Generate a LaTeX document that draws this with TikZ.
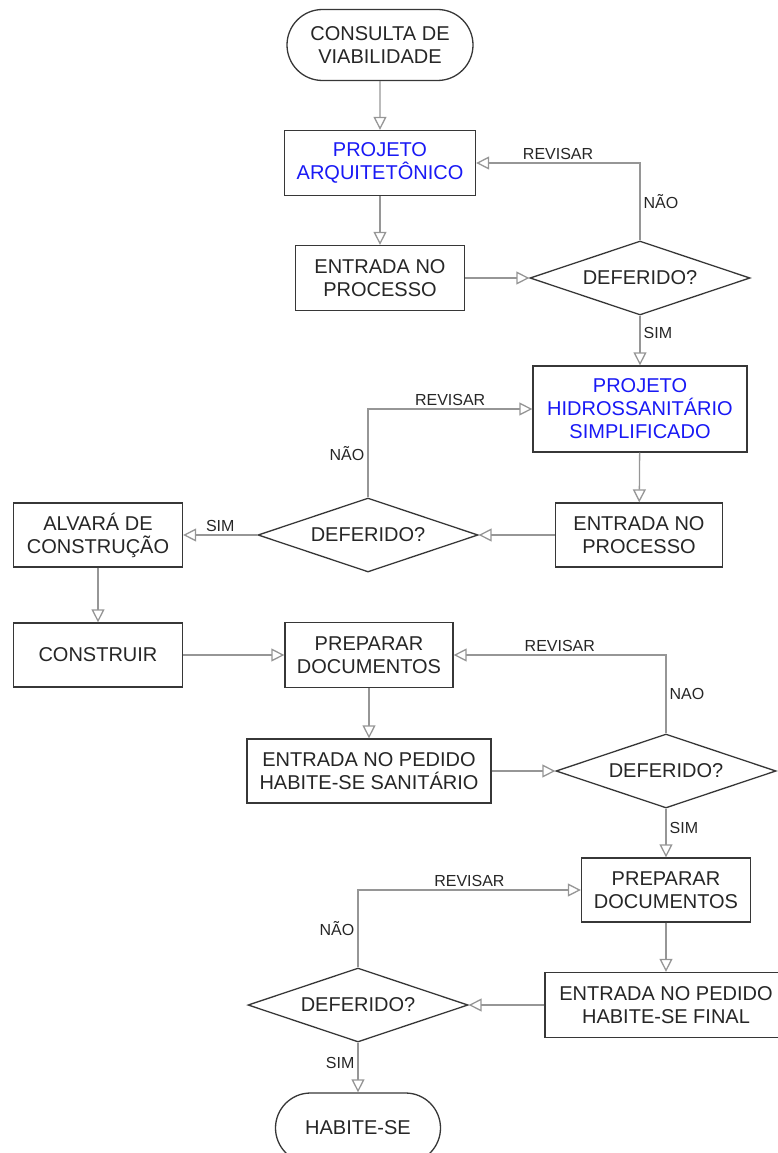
\documentclass[tikz,border=0pt]{standalone}
\usepackage{fontspec}
\setmainfont{Liberation Sans}
\usetikzlibrary{arrows.meta,positioning}
\usetikzlibrary{shapes}
\definecolor{linegray}{RGB}{150,150,150}
\definecolor{boxgray}{RGB}{55,55,55}
\definecolor{textblue}{RGB}{25,25,245}
\tikzset{
        treenode/.style={align=center,inner sep=0pt,text=black!85,font=\fontsize{20}{23}\selectfont},
        % Process boxes
        node_process/.style={treenode, rectangle, draw=boxgray, line width=1.3pt, fill=white},
        % Project boxes
        node_project/.style={node_process, text=textblue},
        % Decision nodes
        node_decision/.style={treenode, diamond, aspect=3, draw=boxgray, line width=1.3pt, minimum width=220pt, minimum height=74pt},
        % Start and end nodes
        node_terminal/.style={treenode, rounded rectangle, draw=boxgray, line width=1.3pt},
        % Connector labels
        node_label/.style={font=\fontsize{16}{18}\selectfont, text=black!85, inner sep=3pt},
        flow/.style={draw=linegray, line width=1.3pt, -{Triangle[open, length=13pt, width=13pt]}}
}
\begin{document}
\begin{tikzpicture}[x=1pt, y=-1pt]
            \useasboundingbox (0,0) rectangle (777,1153);
            \node[node_terminal, minimum width=186pt, minimum height=71pt] (consulta) at (380,45) {CONSULTA DE\\VIABILIDADE};
            \node[node_project, minimum width=191pt, minimum height=65pt] (arq) at (380,163) {PROJETO\\ARQUITETÔNICO};
            \node[node_process, minimum width=169pt, minimum height=65pt] (entrada1) at (380,278) {ENTRADA NO\\PROCESSO};
            \node[node_decision] (dec1) at (640,278) {DEFERIDO?};
            \node[node_project, minimum width=214pt, minimum height=86pt] (hidro) at (640,409) {PROJETO\\HIDROSSANITÁRIO\\SIMPLIFICADO};
            \node[node_process, minimum width=167pt, minimum height=64pt] (entrada2) at (639,535) {ENTRADA NO\\PROCESSO};
            \node[node_decision] (dec2) at (368,535) {DEFERIDO?};
            \node[node_process, minimum width=169pt, minimum height=64pt] (alvara) at (98,535) {ALVARÁ DE\\CONSTRUÇÃO};
            \node[node_process, minimum width=169pt, minimum height=64pt] (construir) at (98,655) {CONSTRUIR};
            \node[node_process, minimum width=168pt, minimum height=65pt] (prep1) at (369,655) {PREPARAR\\DOCUMENTOS};
            \node[node_process, minimum width=244pt, minimum height=64pt] (entrada3) at (369,771) {ENTRADA NO PEDIDO\\HABITE-SE SANITÁRIO};
            \node[node_decision] (dec3) at (666,771) {DEFERIDO?};
            \node[node_process, minimum width=169pt, minimum height=64pt] (prep2) at (666,890) {PREPARAR\\DOCUMENTOS};
            \node[node_process, minimum width=242pt, minimum height=65pt] (entrada4) at (666,1005) {ENTRADA NO PEDIDO\\HABITE-SE FINAL};
            \node[node_decision] (dec4) at (358,1005) {DEFERIDO?};
            \node[node_terminal, minimum width=165pt, minimum height=70pt] (habite) at (358,1128) {HABITE-SE};

            \draw[flow] (consulta) -- (arq);
            \draw[flow] (arq) -- (entrada1);
            \draw[flow] (entrada1) -- (dec1);
            \draw[flow] (dec1.north) |- node[node_label, right, pos=0.25]{NÃO} node[node_label, above, pos=0.75]{REVISAR} (arq.east);
            \draw[flow] (dec1) -- node[node_label, right, pos=0.35]{SIM} (hidro);
            \draw[flow] (hidro) -- (entrada2);
            \draw[flow] (entrada2) -- (dec2);
            \draw[flow] (dec2.north) |- node[node_label, left, pos=0.25]{NÃO} node[node_label, above, pos=0.75]{REVISAR} (hidro.west);
            \draw[flow] (dec2) -- node[node_label, above]{SIM} (alvara);
            \draw[flow] (alvara) -- (construir);
            \draw[flow] (construir) -- (prep1);
            \draw[flow] (prep1) -- (entrada3);
            \draw[flow] (entrada3) -- (dec3);
            \draw[flow] (dec3.north) |- node[node_label, right, pos=0.25]{NAO} node[node_label, above, pos=0.75]{REVISAR} (prep1.east);
            \draw[flow] (dec3) -- node[node_label, right, pos=0.4]{SIM} (prep2);
            \draw[flow] (prep2) -- (entrada4);
            \draw[flow] (entrada4) -- (dec4);
            \draw[flow] (dec4.north) |- node[node_label, left, pos=0.25]{NÃO} node[node_label, above, pos=0.75]{REVISAR} (prep2.west);
            \draw[flow] (dec4) -- node[node_label, left, pos=0.4]{SIM} (habite);
\end{tikzpicture}
\end{document}
